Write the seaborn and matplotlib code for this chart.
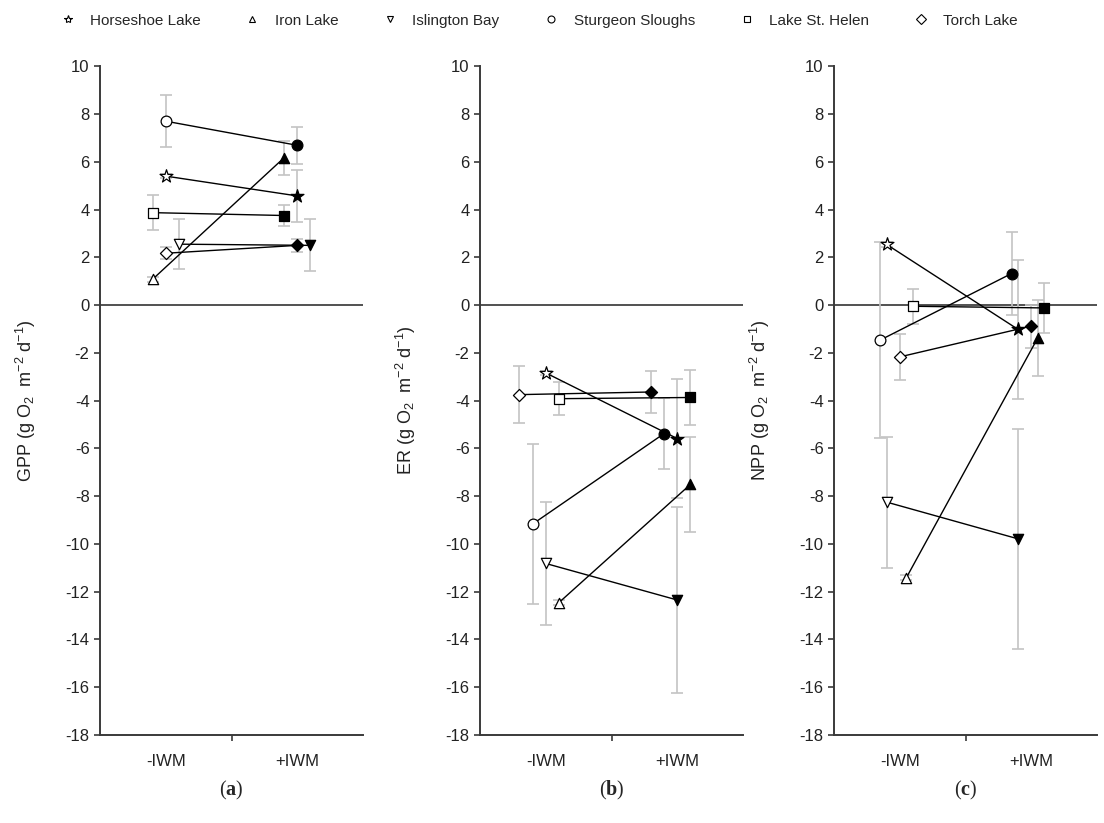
import pandas as pd
import matplotlib.pyplot as plt
from matplotlib.lines import Line2D
import seaborn as sns

sns.set_theme(style='ticks')
plt.rcParams['font.family'] = ['Liberation Sans', 'DejaVu Sans']
plt.rcParams['axes.unicode_minus'] = False
plt.rcParams['mathtext.fontset'] = 'custom'
plt.rcParams['mathtext.bf'] = 'Liberation Serif:bold'
plt.rcParams['mathtext.rm'] = 'Liberation Serif'

# data
lakes = ['Horseshoe Lake', 'Iron Lake', 'Islington Bay', 'Sturgeon Sloughs', 'Lake St. Helen', 'Torch Lake']
conditions = ['-IWM', '+IWM']

gpp_without = [5.40, 1.08, 2.55, 7.70, 3.87, 2.17]
gpp_without_err = [0.10, 0.10, 1.05, 1.10, 0.73, 0.25]
gpp_with = [4.57, 6.17, 2.50, 6.69, 3.75, 2.50]
gpp_with_err = [1.10, 0.72, 1.09, 0.78, 0.42, 0.28]

er_without = [-2.84, -12.46, -10.82, -9.17, -3.92, -3.75]
er_without_err = [0.10, 0.10, 2.56, 3.35, 0.70, 1.20]
er_with = [-5.59, -7.51, -12.35, -5.38, -3.87, -3.64]
er_with_err = [2.50, 2.00, 3.90, 1.50, 1.15, 0.90]

npp_without = [2.54, -11.42, -8.25, -1.47, -0.05, -2.17]
npp_without_err = [0.10, 0.10, 2.74, 4.10, 0.73, 0.95]
npp_with = [-1.02, -1.37, -9.79, 1.32, -0.12, -0.88]
npp_with_err = [2.90, 1.60, 4.60, 1.75, 1.05, 0.90]

# styling / layout
markers = {'Horseshoe Lake': '*', 'Iron Lake': '^', 'Islington Bay': 'v',
           'Sturgeon Sloughs': 'o', 'Lake St. Helen': 's', 'Torch Lake': 'D'}
msize = {'*': 95, '^': 55, 'v': 55, 'o': 60, 's': 45, 'D': 38}
# horizontal jitter of each lake within a panel (same as original)
offsets = {
    'GPP': [0.0, -0.1, 0.1, 0.0, -0.1, 0.0],
    'ER': [0.0, 0.1, 0.0, -0.1, 0.1, -0.2],
    'NPP': [-0.1, 0.05, -0.1, -0.15, 0.1, 0.0],
}

panels = [
    ('GPP', gpp_without, gpp_without_err, gpp_with, gpp_with_err, '(a)'),
    ('ER', er_without, er_without_err, er_with, er_with_err, '(b)'),
    ('NPP', npp_without, npp_without_err, npp_with, npp_with_err, '(c)'),
]

rows = []
for name, wo, wo_e, w, w_e, _ in panels:
    for i, lake in enumerate(lakes):
        rows.append([name, lake, '-IWM', 0 + offsets[name][i], wo[i], wo_e[i]])
        rows.append([name, lake, '+IWM', 1 + offsets[name][i], w[i], w_e[i]])
df = pd.DataFrame(rows, columns=['metric', 'lake', 'condition', 'xpos', 'value', 'err'])

fig = plt.figure(figsize=(11.04, 8.23), dpi=100)
lefts = [100 / 1104, 480 / 1104, 834 / 1104]
axc = '#3a3a3a'

for (name, *_rest), left in zip(panels, lefts):
    label = _rest[-1]
    ax = fig.add_axes([left, 0.107, 263 / 1104, 0.8125])
    ax.axhline(0, color='#222222', lw=1.1, zorder=1)
    sub_all = df[df['metric'] == name]
    for lake in lakes:
        sub = sub_all[sub_all['lake'] == lake]
        ax.errorbar(sub['xpos'], sub['value'], yerr=sub['err'], fmt='none',
                    ecolor='#c4c4c4', elinewidth=1.2, capsize=4, capthick=1.2, zorder=1.5)
        sns.lineplot(data=sub, x='xpos', y='value', color='black', lw=1.0,
                     sort=False, ax=ax, legend=False, zorder=2)
        m = markers[lake]
        sns.scatterplot(data=sub[sub['condition'] == '-IWM'], x='xpos', y='value',
                        marker=m, s=msize[m], color='white', edgecolor='black',
                        linewidth=0.9, ax=ax, legend=False, zorder=3)
        sns.scatterplot(data=sub[sub['condition'] == '+IWM'], x='xpos', y='value',
                        marker=m, s=msize[m], color='black', edgecolor='black',
                        linewidth=0.9, ax=ax, legend=False, zorder=3)

    ax.set_xlim(-0.5, 1.5)
    ax.set_ylim(-18, 10)
    ax.set_yticks(range(-18, 11, 2))
    ax.set_xticks([0, 1])
    ax.set_xticklabels(conditions)
    ax.set_xticks([0.5], minor=True)
    ax.tick_params(axis='x', which='major', length=0, pad=14, labelsize=12, colors='#222222')
    ax.tick_params(axis='x', which='minor', length=4, width=1.2, color=axc)
    ax.tick_params(axis='y', length=4, width=1.2, color=axc, labelsize=12, labelcolor='#222222')
    for s in ['top', 'right']:
        ax.spines[s].set_visible(False)
    for s in ['left', 'bottom']:
        ax.spines[s].set_color(axc)
        ax.spines[s].set_linewidth(1.4)
    ax.set_xlabel('')
    ax.set_ylabel(name + r' (g O$\mathregular{_2}$  m$\mathregular{^{-2}}$ d$\mathregular{^{-1}}$)',
                  fontsize=13, color='#222222')
    ax.yaxis.set_label_coords(-0.235, 0.5)
    fig.text(left + 263 / 1104 / 2, 0.04, r'($\mathbf{' + label[1] + r'}$)',
             ha='center', va='center', fontsize=14.5, family='Liberation Serif')

handles = [Line2D([], [], marker=markers[l], ls='none', markersize=6 if markers[l] == '*' else 5,
                  markerfacecolor='white', markeredgecolor='black', markeredgewidth=0.8)
           for l in lakes]
fig.legend(handles, lakes, loc='upper center', bbox_to_anchor=(0.488, 1.0), ncol=6,
           frameon=False, fontsize=11, handlelength=1.0, handletextpad=0.95,
           columnspacing=2.9)

plt.savefig('out.png', dpi=100)
plt.close()
